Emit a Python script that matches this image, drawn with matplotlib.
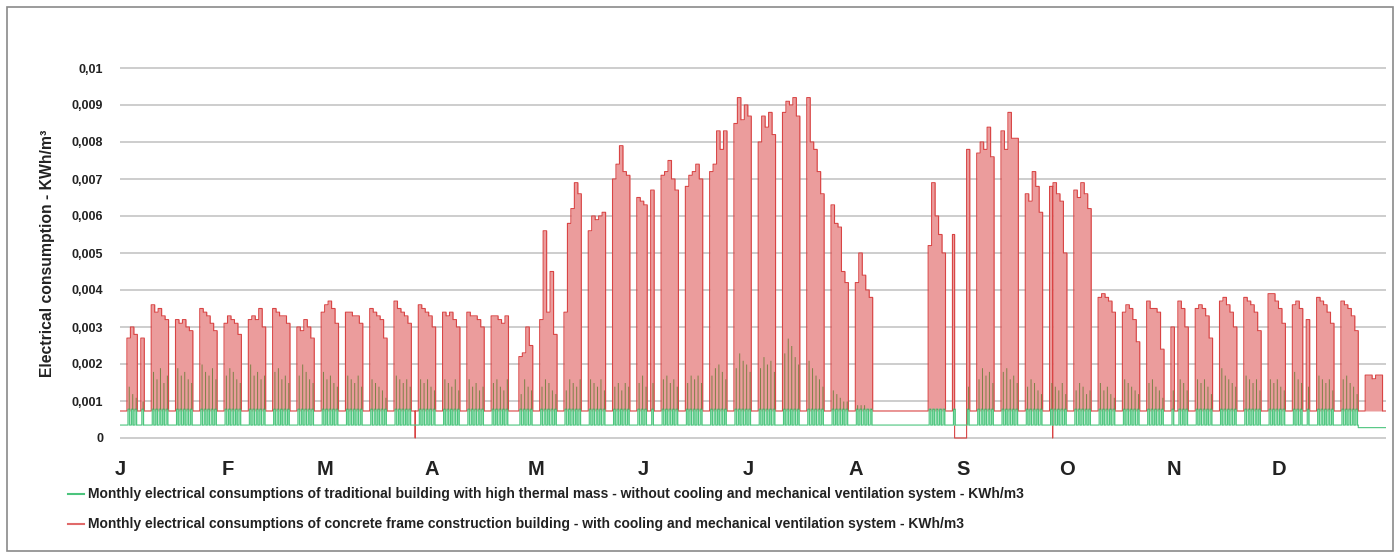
import numpy as np
import matplotlib
matplotlib.use("Agg")
import matplotlib.pyplot as plt
from matplotlib.lines import Line2D
from matplotlib.patches import Rectangle
from matplotlib.ticker import FuncFormatter, MultipleLocator

plt.rcParams['font.family'] = ['Liberation Sans', 'DejaVu Sans']

# calendar of the simulated year (hourly steps, day 0 = 1 January, first Monday = day 2)
n_days = 365
first_monday = 2
month_letters = ['J', 'F', 'M', 'A', 'M', 'J', 'J', 'A', 'S', 'O', 'N', 'D']
month_start_day = [0, 31, 59, 90, 120, 151, 181, 212, 243, 273, 304, 334]

# levels outside working hours (KWh/m3)
red_base = 0.00073
green_base = 0.00035
green_base_late = 0.00028
green_late_from_day = 357
green_work = 0.00078

# concrete frame building, working-day levels, one row per week (Mon..Fri), None = day off
red_q1 = [
    [0.0027, 0.0030, 0.0028, None, 0.0027],
    [0.0036, 0.0034, 0.0035, 0.0033, 0.0032],
    [0.0032, 0.0031, 0.0032, 0.0030, 0.0029],
    [0.0035, 0.0034, 0.0033, 0.0031, 0.0029],
    [0.0031, 0.0033, 0.0032, 0.0031, 0.0028],
    [0.0032, 0.0033, 0.0032, 0.0035, 0.0030],
    [0.0035, 0.0034, 0.0033, 0.0033, 0.0031],
    [0.0030, 0.0029, 0.0032, 0.0030, 0.0027],
    [0.0034, 0.0036, 0.0037, 0.0035, 0.0031],
    [0.0034, 0.0034, 0.0033, 0.0033, 0.0031],
    [0.0035, 0.0034, 0.0033, 0.0032, 0.0027],
    [0.0037, 0.0035, 0.0034, 0.0033, 0.0031],
    [0.0036, 0.0035, 0.0034, 0.0033, 0.0030],
]
red_q2 = [
    [0.0034, 0.0033, 0.0034, 0.0032, 0.0030],
    [0.0034, 0.0033, 0.0033, 0.0032, 0.0030],
    [0.0033, 0.0033, 0.0032, 0.0031, 0.0033],
    [None, 0.0022, 0.0023, 0.0030, 0.0025],
    [0.0032, 0.0056, 0.0034, 0.0045, 0.0028],
    [0.0034, 0.0058, 0.0062, 0.0069, 0.0066],
    [0.0056, 0.0060, 0.0059, 0.0060, 0.0061],
    [0.0070, 0.0074, 0.0079, 0.0072, 0.0071],
    [0.0065, 0.0064, 0.0063, None, 0.0067],
    [0.0071, 0.0072, 0.0075, 0.0070, 0.0067],
    [0.0068, 0.0071, 0.0072, 0.0074, 0.0070],
    [0.0072, 0.0074, 0.0083, 0.0078, 0.0083],
    [0.0085, 0.0092, 0.0086, 0.0090, 0.0087],
]
red_q3 = [
    [0.0080, 0.0087, 0.0084, 0.0088, 0.0082],
    [0.0088, 0.0091, 0.0090, 0.0092, 0.0087],
    [0.0092, 0.0080, 0.0078, 0.0072, 0.0066],
    [0.0063, 0.0058, 0.0057, 0.0045, 0.0042],
    [0.0042, 0.0050, 0.0044, 0.0040, 0.0038],
    [None, None, None, None, None],
    [None, None, None, None, None],
    [0.0052, 0.0069, 0.0060, 0.0055, 0.0050],
    [0.0055, None, None, None, 0.0078],
    [0.0077, 0.0080, 0.0078, 0.0084, 0.0076],
    [0.0083, 0.0078, 0.0088, 0.0081, 0.0081],
    [0.0066, 0.0064, 0.0072, 0.0068, 0.0061],
    [0.0068, 0.0069, 0.0066, 0.0064, 0.0050],
]
red_q4 = [
    [0.0067, 0.0065, 0.0069, 0.0066, 0.0062],
    [0.0038, 0.0039, 0.0038, 0.0037, 0.0034],
    [0.0034, 0.0036, 0.0035, 0.0032, 0.0026],
    [0.0037, 0.0035, 0.0035, 0.0034, 0.0024],
    [0.0030, None, 0.0037, 0.0035, 0.0030],
    [0.0035, 0.0036, 0.0035, 0.0033, 0.0027],
    [0.0037, 0.0038, 0.0036, 0.0034, 0.0030],
    [0.0038, 0.0037, 0.0036, 0.0034, 0.0029],
    [0.0039, 0.0039, 0.0037, 0.0035, 0.0031],
    [0.0036, 0.0037, 0.0035, None, 0.0032],
    [0.0038, 0.0037, 0.0036, 0.0034, 0.0031],
    [0.0037, 0.0036, 0.0035, 0.0033, 0.0029],
    [0.0017, 0.0017, 0.0016, 0.0017, 0.0017],
]

# traditional building, daily peaks during occupied hours
green_q1 = [
    [0.0014, 0.0012, 0.0011, None, 0.0010],
    [0.0018, 0.0016, 0.0019, 0.0015, 0.0017],
    [0.0019, 0.0017, 0.0018, 0.0016, 0.0015],
    [0.0020, 0.0018, 0.0017, 0.0019, 0.0016],
    [0.0017, 0.0019, 0.0018, 0.0016, 0.0015],
    [0.0020, 0.0017, 0.0018, 0.0016, 0.0017],
    [0.0018, 0.0019, 0.0016, 0.0017, 0.0015],
    [0.0017, 0.0020, 0.0018, 0.0016, 0.0015],
    [0.0018, 0.0016, 0.0017, 0.0015, 0.0014],
    [0.0017, 0.0016, 0.0015, 0.0017, 0.0014],
    [0.0016, 0.0015, 0.0014, 0.0013, 0.0011],
    [0.0017, 0.0016, 0.0015, 0.0016, 0.0014],
    [0.0016, 0.0015, 0.0016, 0.0014, 0.0013],
]
green_q2 = [
    [0.0016, 0.0015, 0.0014, 0.0016, 0.0013],
    [0.0016, 0.0014, 0.0015, 0.0013, 0.0014],
    [0.0015, 0.0016, 0.0014, 0.0013, 0.0016],
    [None, 0.0012, 0.0016, 0.0014, 0.0013],
    [0.0014, 0.0016, 0.0015, 0.0013, 0.0012],
    [0.0013, 0.0016, 0.0015, 0.0014, 0.0016],
    [0.0016, 0.0015, 0.0014, 0.0016, 0.0013],
    [0.0014, 0.0015, 0.0013, 0.0015, 0.0014],
    [0.0015, 0.0017, 0.0014, None, 0.0015],
    [0.0016, 0.0017, 0.0015, 0.0016, 0.0014],
    [0.0015, 0.0017, 0.0016, 0.0017, 0.0015],
    [0.0017, 0.0019, 0.0020, 0.0018, 0.0016],
    [0.0019, 0.0023, 0.0021, 0.0020, 0.0018],
]
green_q3 = [
    [0.0019, 0.0022, 0.0020, 0.0021, 0.0018],
    [0.0023, 0.0027, 0.0025, 0.0022, 0.0020],
    [0.0021, 0.0019, 0.0017, 0.0016, 0.0014],
    [0.0013, 0.0012, 0.0011, 0.0010, 0.0010],
    [0.0009, 0.0009, 0.0009, 0.0008, 0.0008],
    [None, None, None, None, None],
    [None, None, None, None, None],
    [0.0008, 0.0008, 0.0008, 0.0008, 0.0008],
    [0.0008, None, None, None, 0.0014],
    [0.0016, 0.0019, 0.0017, 0.0018, 0.0015],
    [0.0018, 0.0019, 0.0016, 0.0017, 0.0015],
    [0.0014, 0.0016, 0.0015, 0.0013, 0.0012],
    [0.0015, 0.0014, 0.0013, 0.0015, 0.0012],
]
green_q4 = [
    [0.0013, 0.0015, 0.0014, 0.0012, 0.0013],
    [0.0015, 0.0013, 0.0014, 0.0012, 0.0011],
    [0.0016, 0.0015, 0.0014, 0.0013, 0.0012],
    [0.0015, 0.0016, 0.0014, 0.0013, 0.0011],
    [0.0013, None, 0.0016, 0.0015, 0.0013],
    [0.0016, 0.0015, 0.0016, 0.0014, 0.0012],
    [0.0019, 0.0017, 0.0016, 0.0015, 0.0014],
    [0.0017, 0.0016, 0.0015, 0.0016, 0.0013],
    [0.0016, 0.0015, 0.0016, 0.0014, 0.0013],
    [0.0018, 0.0016, 0.0015, None, 0.0014],
    [0.0017, 0.0016, 0.0015, 0.0016, 0.0013],
    [0.0016, 0.0017, 0.0015, 0.0014, 0.0012],
    [None, None, None, None, None],
]

# periods (in days) where the concrete frame meter reads zero
red_zero_spans = [(85.08, 85.13), (240.62, 244.08), (268.88, 268.92)]

# occupied hours of the traditional building (start, end)
green_band_hours = (7, 19)
green_peak_hours = (9, 16)

green_label = ("Monthly electrical consumptions of traditional building with high thermal mass"
               " - without cooling and mechanical ventilation system - KWh/m3")
red_label = ("Monthly electrical consumptions of concrete frame construction building"
             " - with cooling and mechanical ventilation system - KWh/m3")

# ---- hourly series
n_h = n_days * 24
red_h = np.full(n_h, red_base)
green_low_h = np.full(n_h, green_base)
green_low_h[green_late_from_day * 24:] = green_base_late
green_h = green_low_h.copy()

for w, (rrow, grow) in enumerate(zip(red_q1 + red_q2 + red_q3 + red_q4,
                                     green_q1 + green_q2 + green_q3 + green_q4)):
    monday = first_monday + 7 * w
    for i in range(5):
        d = monday + i
        if rrow[i] is not None:
            red_h[d * 24:(d + 1) * 24] = rrow[i]
        if grow[i] is not None:
            green_h[d * 24 + green_band_hours[0]:d * 24 + green_band_hours[1]] = green_work
            green_h[d * 24 + green_peak_hours[0]:d * 24 + green_peak_hours[1]] = grow[i]

for a, b in red_zero_spans:
    red_h[int(round(a * 24)):int(round(b * 24))] = 0.0

xs = np.arange(n_h + 1) / 24
red_y = np.append(red_h, red_h[-1])
green_y = np.append(green_h, green_h[-1])
green_low_y = np.append(green_low_h, green_low_h[-1])

# ---- figure
fig = plt.figure(figsize=(14, 5.58), dpi=100)
ax = fig.add_axes([120 / 1400, 1 - 441.7 / 558, 1266 / 1400, 377.4 / 558])

ax.fill_between(xs, red_base, np.maximum(red_y, red_base), step='post',
                color='#eb9c9c', lw=0, zorder=2)
ax.step(xs, red_y, where='post', color='#d94444', lw=0.8, zorder=3)

green_band = np.minimum(green_y, green_work)
ax.fill_between(xs, green_low_y, green_band, step='post', color='#93e2b3', lw=0, zorder=4)
ax.step(xs, green_band, where='post', color='#4cc47d', lw=0.8, zorder=4)
ax.fill_between(xs, green_work, np.maximum(green_y, green_work), step='post',
                color='#6d7d3b', alpha=0.85, lw=0, zorder=5)

ax.set_xlim(0, n_days)
ax.set_ylim(-0.0001, 0.0101)
ax.yaxis.set_major_locator(MultipleLocator(0.001))
ax.yaxis.set_major_formatter(FuncFormatter(
    lambda v, p: f"{v:.3f}".rstrip('0').rstrip('.').replace('.', ',')))
ax.yaxis.grid(True, color='#c9c9c9', lw=1.3)
ax.set_axisbelow(True)
for s in ax.spines.values():
    s.set_visible(False)

ax.set_xticks(month_start_day, month_letters)
ax.tick_params(axis='x', length=0, pad=13, labelsize=14.5, colors='#222222')
ax.tick_params(axis='y', length=0, pad=12, labelsize=9, colors='#222222')
for lab in ax.get_xticklabels() + ax.get_yticklabels():
    lab.set_fontweight('bold')

ax.set_ylabel("Electrical consumption - KWh/m³", fontsize=11.3, fontweight='bold', color='#222222')
ax.yaxis.set_label_coords(-0.051, 0.5)

# legend below the plot
for y_px, col, text in [(494, '#4cc47d', green_label), (524, '#e06a6a', red_label)]:
    fy = 1 - y_px / 558
    fig.add_artist(Line2D([68 / 1400, 84 / 1400], [fy, fy], color=col, lw=1.5))
    fig.text(88 / 1400, fy, text, va='center', ha='left', fontsize=10,
             fontweight='bold', color='#222222')

fig.add_artist(Rectangle((7 / 1400, 7 / 558), 1386 / 1400, 544 / 558, fill=False,
                         ec='#8a8a8a', lw=1.2, transform=fig.transFigure))

fig.savefig('out.png', dpi=100)
